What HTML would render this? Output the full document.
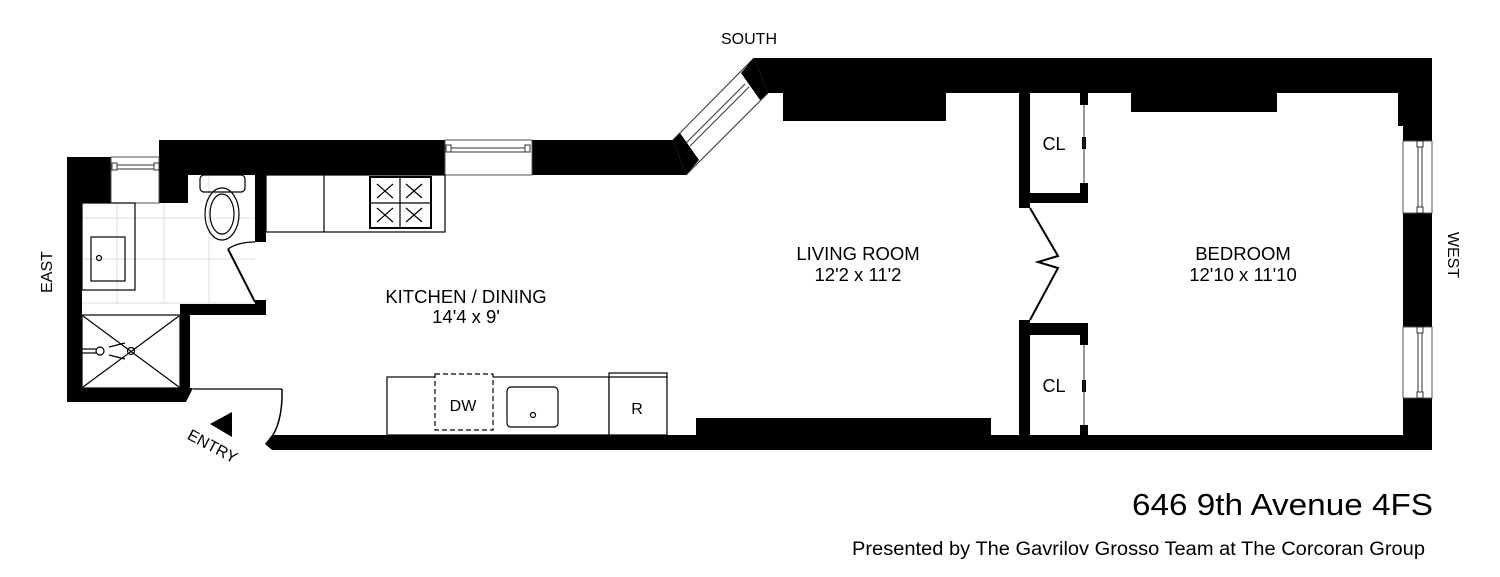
<!DOCTYPE html>
<html><head><meta charset="utf-8"><style>
html,body{margin:0;padding:0;background:#fff;}
svg{display:block;font-family:"Liberation Sans",Arial,sans-serif;}
</style></head><body>
<svg width="1500" height="577" viewBox="0 0 1500 577" xmlns="http://www.w3.org/2000/svg">
<rect width="1500" height="577" fill="#fff"/>
<g stroke="#ddd" stroke-width="1">
<line x1="82" y1="218" x2="255" y2="218"/><line x1="82" y1="259" x2="255" y2="259"/><line x1="82" y1="303" x2="255" y2="303"/>
<line x1="117" y1="203" x2="117" y2="303"/><line x1="164" y1="203" x2="164" y2="303"/><line x1="209" y1="175" x2="209" y2="303"/>
</g>
<g fill="#000">
<polygon points="754,58 1432,58 1432,141 1403,141 1403,126 1398,126 1398,93 768,93 686,175 160,175 160,140 673,140"/>
<rect x="783" y="92" width="163" height="29"/>
<rect x="1131" y="92" width="146" height="20"/>
<rect x="1403" y="213" width="29" height="114"/>
<rect x="1403" y="398" width="29" height="52"/>
<polygon points="272,435 1432,435 1432,450 272,450 265,444"/>
<rect x="696" y="418" width="295" height="18"/>
<rect x="1019" y="93" width="11" height="115"/>
<rect x="1019" y="320" width="11" height="115"/>
<rect x="1019" y="193" width="69" height="10"/>
<rect x="1080" y="183" width="8" height="20"/>
<rect x="1080" y="93" width="8" height="12"/>
<rect x="1082" y="137" width="4" height="12"/>
<rect x="1019" y="323" width="69" height="12"/>
<rect x="1080" y="335" width="8" height="10"/>
<rect x="1080" y="425" width="8" height="10"/>
<rect x="1082" y="380" width="4" height="12"/>
<rect x="67" y="157" width="15" height="245"/>
<rect x="67" y="157" width="44" height="46"/>
<rect x="159" y="140" width="29" height="63"/>
<rect x="255" y="175" width="11" height="67"/>
<rect x="255" y="300" width="11" height="15"/>
<rect x="180" y="304" width="86" height="11"/>
<rect x="180" y="304" width="10" height="86"/>
<polygon points="67,388 193,388 186,402 67,402"/>
<polygon points="210,424 232,412 232,437"/>
</g>
<g fill="#fff" stroke="#555" stroke-width="1">
<rect x="445" y="140" width="87" height="35"/>
<rect x="111" y="157" width="48" height="46"/>
<rect x="1403" y="141" width="29" height="72"/>
<rect x="1403" y="327" width="29" height="71"/>
<polygon points="673,140 754,58 768,93 686,175" stroke="none"/>
</g>
<g stroke="#333" stroke-width="1" fill="none">
<line x1="449" y1="148" x2="528" y2="148"/><line x1="449" y1="152" x2="528" y2="152"/>
<rect x="446" y="145" width="5" height="7" fill="#fff"/><rect x="525" y="145" width="5" height="7" fill="#fff"/>
<line x1="113" y1="165" x2="157" y2="165"/><line x1="113" y1="169" x2="157" y2="169"/>
<rect x="112" y="163" width="5" height="7" fill="#fff"/><rect x="154" y="163" width="5" height="7" fill="#fff"/>
<line x1="1418" y1="143" x2="1418" y2="211"/><line x1="1422" y1="143" x2="1422" y2="211"/>
<rect x="1417" y="141" width="6" height="6" fill="#fff"/><rect x="1417" y="207" width="6" height="6" fill="#fff"/>
<line x1="1418" y1="329" x2="1418" y2="396"/><line x1="1422" y1="329" x2="1422" y2="396"/>
<rect x="1417" y="327" width="6" height="6" fill="#fff"/><rect x="1417" y="392" width="6" height="6" fill="#fff"/>
<line x1="673" y1="140" x2="754" y2="58"/><line x1="686" y1="175" x2="768" y2="93"/>
<line x1="686" y1="143" x2="745" y2="84"/><line x1="690" y1="146" x2="749" y2="87"/>
<line x1="1084" y1="105" x2="1084" y2="183"/><line x1="1084" y1="345" x2="1084" y2="425"/>
</g>
<polygon points="754,58 768,93 760,100 741,73" fill="#000"/>
<polygon points="673,140 686,175 699,160 680,133" fill="#000"/>
<polyline points="1030,208 1058,256 1038,262 1058,268 1030,320" fill="none" stroke="#000" stroke-width="2"/>
<g stroke="#000" stroke-width="1.2" fill="none">
<rect x="266" y="175" width="179" height="57"/>
<line x1="324" y1="175" x2="324" y2="232"/>
<rect x="370" y="177" width="61" height="51" stroke-width="2"/>
<line x1="400" y1="178" x2="400" y2="227"/><line x1="371" y1="203" x2="430" y2="203"/>
<path d="M377 184l16 14M393 184l-16 14M406 184l16 14M422 184l-16 14M377 208l16 14M393 208l-16 14M406 208l16 14M422 208l-16 14"/>
<rect x="387" y="377" width="222" height="58"/>
<rect x="435" y="374" width="58" height="56" stroke-dasharray="5,3" fill="#fff"/>
<rect x="507" y="387" width="51" height="40" rx="4"/>
<circle cx="533" cy="415" r="2.5"/>
<rect x="609" y="373" width="58" height="62" fill="#fff"/>
<line x1="609" y1="377" x2="667" y2="377"/>
<rect x="82" y="203" width="53" height="87"/>
<rect x="91" y="237" width="34" height="44"/>
<circle cx="99" cy="258" r="2.5"/>
<rect x="200" y="175" width="45" height="17" rx="4"/>
<ellipse cx="222" cy="214" rx="17" ry="26"/>
<ellipse cx="222" cy="214" rx="12" ry="20"/>
<rect x="82" y="315" width="98" height="73"/>
<line x1="83" y1="316" x2="179" y2="387"/><line x1="179" y1="316" x2="83" y2="387"/>
<circle cx="131" cy="351" r="3.5"/>
<circle cx="100" cy="351" r="4"/>
<line x1="82" y1="349" x2="96" y2="349"/><line x1="82" y1="353" x2="96" y2="353"/>
<line x1="109" y1="347" x2="125" y2="343"/><line x1="109" y1="355" x2="125" y2="359"/>
<path d="M228 249 L255 302" stroke-width="2"/>
<path d="M228 249 Q238 242 255 242"/>
<line x1="193" y1="389" x2="282" y2="389"/>
<path d="M282 389 Q283 425 268 442" stroke-width="1.5"/>
</g>
<g fill="#000" font-size="18.5" text-anchor="middle">
<text x="749" y="44" font-size="16">SOUTH</text>
<text x="466" y="303">KITCHEN / DINING</text>
<text x="466" y="323">14'4 x 9'</text>
<text x="858" y="260">LIVING ROOM</text>
<text x="858" y="281">12'2 x 11'2</text>
<text x="1243" y="260">BEDROOM</text>
<text x="1243" y="281">12'10 x 11'10</text>
<text x="1054" y="150" font-size="18">CL</text>
<text x="1054" y="392" font-size="18">CL</text>
<text x="463" y="411" font-size="16">DW</text>
<text x="637" y="414" font-size="16">R</text>
<text x="0" y="0" font-size="16" transform="translate(52,272) rotate(-90)">EAST</text>
<text x="0" y="0" font-size="16" transform="translate(1448,255) rotate(90)">WEST</text>
<text x="0" y="0" font-size="16" transform="translate(210,451) rotate(28)">ENTRY</text>
</g>
<text x="1132" y="515" font-size="31" textLength="301" lengthAdjust="spacingAndGlyphs">646 9th Avenue 4FS</text>
<text x="852" y="555" font-size="19" textLength="573" lengthAdjust="spacingAndGlyphs">Presented by The Gavrilov Grosso Team at The Corcoran Group</text>
</svg>
</body></html>
